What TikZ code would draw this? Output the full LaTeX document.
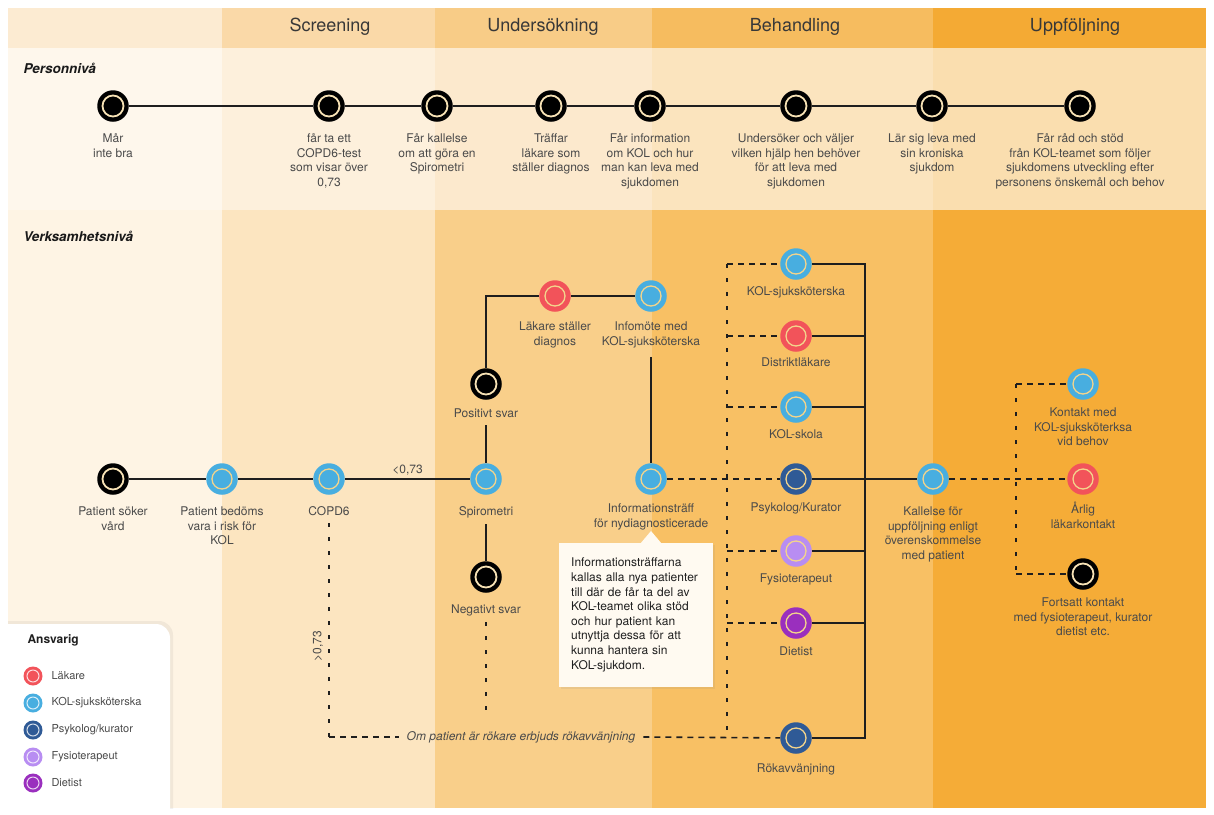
\documentclass[tikz,border=0pt]{standalone}
\usepackage{fontspec}
\setmainfont{TeX Gyre Heros}
\usetikzlibrary{shadows}
\definecolor{h0}{HTML}{FCEBD2}
\definecolor{h1}{HTML}{FAD9A8}
\definecolor{h2}{HTML}{F8CC87}
\definecolor{h3}{HTML}{F6BC5F}
\definecolor{h4}{HTML}{F4AA34}
\definecolor{p0}{HTML}{FEF7EC}
\definecolor{p1}{HTML}{FDF0DC}
\definecolor{p2}{HTML}{FCE9CD}
\definecolor{p3}{HTML}{FBE4BE}
\definecolor{p4}{HTML}{FADEAF}
\definecolor{b0}{HTML}{FEF4E4}
\definecolor{b1}{HTML}{FCE5C0}
\definecolor{b2}{HTML}{F9CF8A}
\definecolor{b3}{HTML}{F8C064}
\definecolor{b4}{HTML}{F5AC37}
\definecolor{txt}{HTML}{4A4A4A}
\definecolor{lineblk}{HTML}{1E1E1E}
\definecolor{ringc}{HTML}{F3D48C}
\definecolor{ringb}{HTML}{F7E2B5}
\definecolor{cred}{HTML}{F2535A}
\definecolor{cblue}{HTML}{48AEE0}
\definecolor{cdblue}{HTML}{2F5A96}
\definecolor{clav}{HTML}{B88DF2}
\definecolor{cpurp}{HTML}{9A2FBE}
\definecolor{callbg}{HTML}{FFFAF1}
\newcommand\lblf{\fontsize{12}{14.6}\selectfont}
\newcommand\hdrf{\fontsize{18}{20}\selectfont}
\newcommand\secf{\fontsize{13.5}{16}\selectfont\bfseries\itshape}
\newcommand\legf{\fontsize{11}{13}\selectfont}
\tikzset{
  cn/.style={circle, minimum size=31.5pt, inner sep=0pt, fill=#1,
    path picture={\draw[ringc, line width=1.3pt] (path picture bounding box.center) circle[radius=10pt];}},
  bn/.style={circle, minimum size=31.5pt, inner sep=0pt, fill=black,
    path picture={\draw[ringb, line width=1.8pt] (path picture bounding box.center) circle[radius=10.5pt];}},
  lg/.style={circle, minimum size=19pt, inner sep=0pt, fill=#1,
    path picture={\draw[white, opacity=0.8, line width=1pt] (path picture bounding box.center) circle[radius=6pt];}},
  lbl/.style={anchor=north, inner sep=0pt, align=center, font=\lblf, text=txt},
  hdr/.style={font=\hdrf, text=black!78},
  sec/.style={anchor=west, font=\secf, text=black!90},
  legtxt/.style={anchor=west, font=\legf, text=txt},
  conn/.style={draw=lineblk, line width=1.5pt},
  hdash/.style={draw=lineblk, line width=1.6pt, dash pattern=on 6pt off 5pt},
  vdash/.style={draw=lineblk, line width=1.6pt, dash pattern=on 4pt off 10pt},
  callbox/.style={anchor=north west, fill=callbg, text width=130pt, inner xsep=12pt,
    inner ysep=13.5pt, align=left, font=\lblf, text=black!88,
    drop shadow={opacity=0.12, shadow xshift=1.5pt, shadow yshift=-2pt}}
}
\begin{document}
\begin{tikzpicture}[x=1pt,y=-1pt]
\useasboundingbox (0,0) rectangle (1214,814);
\fill[white] (0,0) rectangle (1214,814);
% header
\fill[h0] (8,8) rectangle (222,48);
\fill[h1] (222,8) rectangle (435,48);
\fill[h2] (435,8) rectangle (652,48);
\fill[h3] (652,8) rectangle (933,48);
\fill[h4] (933,8) rectangle (1206,48);
% person panel
\fill[p0] (8,48) rectangle (222,210);
\fill[p1] (222,48) rectangle (435,210);
\fill[p2] (435,48) rectangle (652,210);
\fill[p3] (652,48) rectangle (933,210);
\fill[p4] (933,48) rectangle (1206,210);
% body
\fill[b0] (8,210) rectangle (222,808);
\fill[b1] (222,210) rectangle (435,808);
\fill[b2] (435,210) rectangle (652,808);
\fill[b3] (652,210) rectangle (933,808);
\fill[b4] (933,210) rectangle (1206,808);

% headers
\node[hdr] (hScr) at (330,27) {Screening};
\node[hdr] (hUnd) at (543,27) {Undersökning};
\node[hdr] (hBeh) at (795,27) {Behandling};
\node[hdr] (hUpp) at (1075,27) {Uppföljning};
\node[sec] (sPers) at (20,68) {Personnivå};
\node[sec] (sVerk) at (20,236) {Verksamhetsnivå};

% legend box
\begin{scope}
\clip (8,600) rectangle (200,808);
\fill[black, opacity=0.05, rounded corners=14pt] (-20,621) rectangle (173,840);
\fill[white, rounded corners=14pt] (-20,624) rectangle (170,840);
\end{scope}
\node[anchor=west, font=\fontsize{12}{14}\selectfont\bfseries, text=black!88] (ansv) at (24,640) {Ansvarig};
\node[lg=cred] (lg1) at (33,676) {};
\node[lg=cblue] (lg2) at (33,703) {};
\node[lg=cdblue] (lg3) at (33,730) {};
\node[lg=clav] (lg4) at (33,757) {};
\node[lg=cpurp] (lg5) at (33,783) {};
\node[legtxt] (lt1) at (48,676) {Läkare};
\node[legtxt] (lt2) at (48,703) {KOL-sjuksköterska};
\node[legtxt] (lt3) at (48,730) {Psykolog/kurator};
\node[legtxt] (lt4) at (48,757) {Fysioterapeut};
\node[legtxt] (lt5) at (48,783) {Dietist};

% ---------- Personnivå ----------
\node[bn] (p1) at (113,106) {};
\node[bn] (p2) at (329,106) {};
\node[bn] (p3) at (437,106) {};
\node[bn] (p4) at (551,106) {};
\node[bn] (p5) at (650,106) {};
\node[bn] (p6) at (796,106) {};
\node[bn] (p7) at (932,106) {};
\node[bn] (p8) at (1080,106) {};
\draw[conn] (p1) -- (p2) -- (p3) -- (p4) -- (p5) -- (p6) -- (p7) -- (p8);
\node[lbl] (p1-l) at (113,132) {\strut Mår\\inte bra};
\node[lbl] (p2-l) at (329,132) {\strut får ta ett\\COPD6-test\\som visar över\\0,73};
\node[lbl] (p3-l) at (437,132) {\strut Får kallelse\\om att göra en\\Spirometri};
\node[lbl] (p4-l) at (551,132) {\strut Träffar\\läkare som\\ställer diagnos};
\node[lbl] (p5-l) at (650,132) {\strut Får information\\om KOL och hur\\man kan leva med\\sjukdomen};
\node[lbl] (p6-l) at (796,132) {\strut Undersöker och väljer\\vilken hjälp hen behöver\\för att leva med\\sjukdomen};
\node[lbl] (p7-l) at (932,132) {\strut Lär sig leva med\\sin kroniska\\sjukdom};
\node[lbl] (p8-l) at (1080,132) {\strut Får råd och stöd\\från KOL-teamet som följer\\sjukdomens utveckling efter\\personens önskemål och behov};

% ---------- Verksamhetsnivå ----------
\node[bn] (vs1) at (113,479) {};
\node[cn=cblue] (vs2) at (222,479) {};
\node[cn=cblue] (copd6) at (329,479) {};
\node[cn=cblue] (spiro) at (486,479) {};
\node[bn] (possv) at (486,384) {};
\node[cn=cred] (lak) at (555,296) {};
\node[cn=cblue] (infom) at (651,296) {};
\node[bn] (negsv) at (486,577) {};
\node[cn=cblue] (infotr) at (651,479) {};
\node[cn=cblue] (kolsk) at (796,264) {};
\node[cn=cred] (dist) at (796,336) {};
\node[cn=cblue] (skola) at (796,407) {};
\node[cn=cdblue] (psyk) at (796,479) {};
\node[cn=clav] (fysio) at (796,551) {};
\node[cn=cpurp] (diet) at (796,623) {};
\node[cn=cdblue] (rok) at (796,738) {};
\node[cn=cblue] (kall) at (933,479) {};
\node[cn=cblue] (kont) at (1083,384) {};
\node[cn=cred] (arlig) at (1083,479) {};
\node[bn] (fort) at (1083,574) {};

\node[lbl] (vs1-l) at (113,505) {\strut Patient söker\\vård};
\node[lbl] (vs2-l) at (222,505) {\strut Patient bedöms\\vara i risk för\\KOL};
\node[lbl] (copd6-l) at (329,505) {\strut COPD6};
\node[lbl] (spiro-l) at (486,505) {\strut Spirometri};
\node[lbl] (possv-l) at (486,407) {\strut Positivt svar};
\node[lbl] (lak-l) at (555,320) {\strut Läkare ställer\\diagnos};
\node[lbl] (infom-l) at (651,320) {\strut Infomöte med\\KOL-sjuksköterska};
\node[lbl] (negsv-l) at (486,603) {\strut Negativt svar};
\node[lbl] (infotr-l) at (651,502) {\strut Informationsträff\\för nydiagnosticerade};
\node[lbl] (kolsk-l) at (796,285) {\strut KOL-sjuksköterska};
\node[lbl] (dist-l) at (796,356) {\strut Distriktläkare};
\node[lbl] (skola-l) at (796,428) {\strut KOL-skola};
\node[lbl] (psyk-l) at (796,501) {\strut Psykolog/Kurator};
\node[lbl] (fysio-l) at (796,572) {\strut Fysioterapeut};
\node[lbl] (diet-l) at (796,645) {\strut Dietist};
\node[lbl] (rok-l) at (796,762) {\strut Rökavvänjning};
\node[lbl] (kall-l) at (933,505) {\strut Kallelse för\\uppföljning enligt\\överenskommelse\\med patient};
\node[lbl] (kont-l) at (1083,406) {\strut Kontakt med\\KOL-sjuksköterksa\\vid behov};
\node[lbl] (arlig-l) at (1083,502) {\strut Årlig\\läkarkontakt};
\node[lbl] (fort-l) at (1083,596) {\strut Fortsatt kontakt\\med fysioterapeut, kurator\\dietist etc.};

\node[font=\lblf\itshape, text=txt, inner xsep=8pt] (ompat) at (521,737) {Om patient är rökare erbjuds rökavvänjning};
\node[font=\lblf, text=txt, rotate=90] (gt) at (318,646) {>0,73};

\coordinate (negend) at (486,717);
\coordinate (ccorner) at (329,737);
\coordinate (dtop) at (727,264);
\coordinate (dbot) at (727,738);
\coordinate (btop) at (865,264);
\coordinate (bbot) at (865,738);
\coordinate (ftop) at (1016,384);
\coordinate (fbot) at (1016,574);

% solid connectors
\draw[conn] (vs1) -- (vs2) -- (copd6);
\draw[conn] (copd6) -- node[above=2pt, inner sep=1pt, font=\lblf, text=txt] (lt) {<0,73} (spiro);
\draw[conn, shorten <=3pt] (possv-l.south) -- (spiro);
\draw[conn] (possv) |- (lak);
\draw[conn] (lak) -- (infom);
\draw[conn, shorten <=9pt] (infom-l.south) -- (infotr);
\draw[conn, shorten <=4pt] (spiro-l.south) -- (negsv);
\draw[conn] (kolsk) -- (btop) -- (bbot) -- (rok);
\draw[conn] (dist) -- (btop |- dist);
\draw[conn] (skola) -- (btop |- skola);
\draw[conn] (fysio) -- (btop |- fysio);
\draw[conn] (diet) -- (btop |- diet);
\draw[conn] (psyk) -- (kall);

% dashed connectors
\draw[vdash, shorten <=4pt] (negsv-l.south) -- (negend);
\draw[vdash, shorten <=3pt] (copd6-l.south) -- (ccorner);
\draw[hdash] (ccorner) -- (ompat.west);
\draw[hdash] (ompat.east) -- (rok);
\draw[vdash] (dtop) -- (dbot);
\draw[hdash] (dtop) -- (kolsk);
\draw[hdash] (dtop |- dist) -- (dist);
\draw[hdash] (dtop |- skola) -- (skola);
\draw[hdash] (dtop |- fysio) -- (fysio);
\draw[hdash] (dtop |- diet) -- (diet);
\draw[hdash] (infotr) -- (psyk);
\draw[hdash] (kall) -- (arlig);
\draw[vdash] (ftop) -- (fbot);
\draw[hdash] (ftop) -- (kont);
\draw[hdash] (fbot) -- (fort);

% callout
\node[callbox] (callout) at (559,543) {\strut Informationsträffarna\\kallas alla nya patienter\\till där de får ta del av\\KOL-teamet olika stöd\\och hur patient kan\\utnyttja dessa för att\\kunna hantera sin\\KOL-sjukdom.\strut};
\fill[callbg] (640,544) -- (651,531) -- (662,544) -- cycle;
\end{tikzpicture}
\end{document}
